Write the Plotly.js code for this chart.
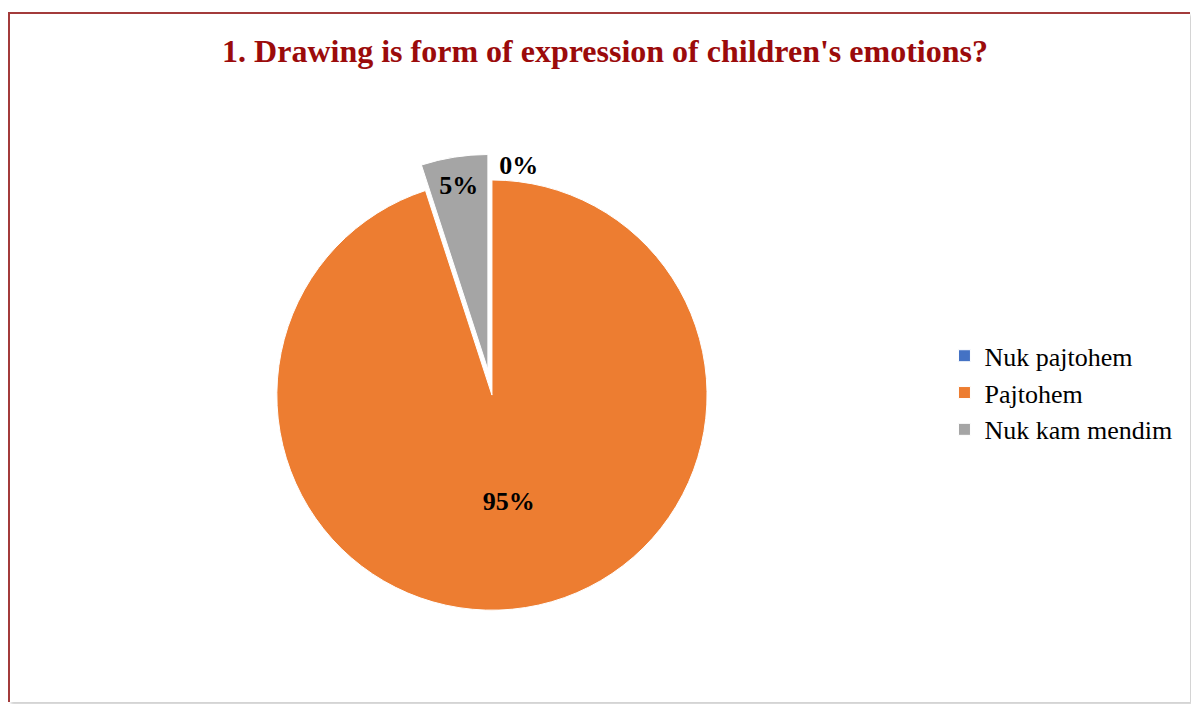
<!DOCTYPE html>
<html>
<head>
<meta charset="utf-8">
<script src="https://cdn.plot.ly/plotly-3.0.1.min.js"></script>
<style>
  html, body { margin: 0; padding: 0; background: #ffffff; }
  #frame {
    position: absolute; left: 8px; top: 12px; width: 1180px; height: 688px;
    border-top: 2px solid #a33b3b; border-left: 2px solid #a33b3b;
    box-shadow: 3px 3px 3px rgba(0,0,0,0.18);
  }
  #chart { position: absolute; left: 0; top: 0; width: 1191px; height: 704px; }
</style>
</head>
<body>
<div id="frame"></div>
<div id="chart"></div>
<script>
const title = "1. Drawing is form of expression of children's emotions?";
const categories = ["Nuk pajtohem", "Pajtohem", "Nuk kam mendim"];
const values = [0, 95, 5];
const colors = ["#4472C4", "#ED7D31", "#A5A5A5"];
const pulls = [0, 0, 0.12];

const trace = {
  type: "pie",
  labels: categories,
  values: values,
  sort: false,
  direction: "clockwise",
  rotation: 0,
  pull: pulls,
  marker: { colors: colors, line: { color: "#ffffff", width: 1 } },
  texttemplate: "%{percent:.0%}",
  textposition: ["outside", "inside", "inside"],
  insidetextorientation: "horizontal",
  textfont: { family: "Liberation Serif, Times New Roman, serif", size: 26, color: "#000000", weight: "bold" },
  hoverinfo: "label+percent",
  domain: { x: [0.2107, 0.6154], y: [0.0966, 0.781] },
  showlegend: true
};

const layout = {
  width: 1191, height: 704,
  margin: { l: 0, r: 0, t: 0, b: 0 },
  paper_bgcolor: "rgba(0,0,0,0)",
  plot_bgcolor: "rgba(0,0,0,0)",
  title: {
    text: "<b>" + title + "</b>",
    font: { family: "Liberation Serif, Times New Roman, serif", size: 32, color: "#9b0b0b" },
    x: 0.508, xanchor: "center", y: 0.928, yanchor: "middle"
  },
  legend: {
    x: 0.793, y: 0.442, xanchor: "left", yanchor: "middle",
    font: { family: "Liberation Serif, Times New Roman, serif", size: 26, color: "#000000" },
    traceorder: "normal",
    itemwidth: 30
  },
  showlegend: true
};

Plotly.newPlot("chart", [trace], layout, { displayModeBar: false, staticPlot: true });
</script>
</body>
</html>
